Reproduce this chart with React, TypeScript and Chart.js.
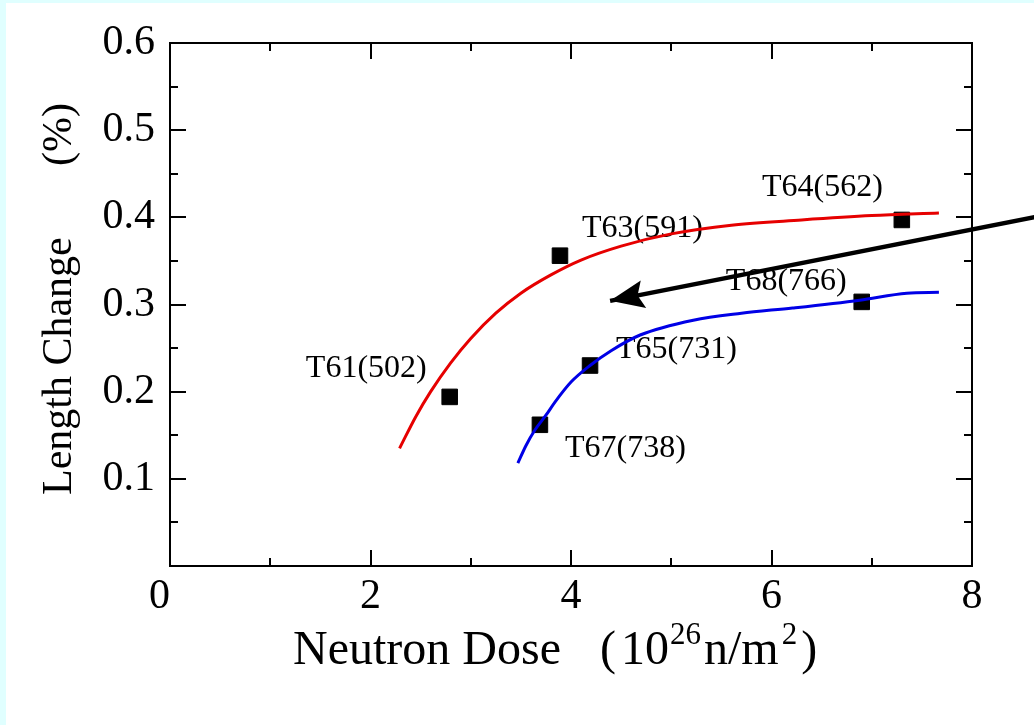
import React, { useEffect, useRef } from "react";
import { Chart, registerables } from "chart.js";

Chart.register(...registerables);

// ---- data ----
const sampleLabels = ["T61(502)", "T63(591)", "T64(562)", "T67(738)", "T65(731)", "T68(766)"];
const sampleDose = [2.79, 3.89, 7.3, 3.69, 4.19, 6.9];
const sampleChange = [0.194, 0.356, 0.397, 0.162, 0.23, 0.303];

const redDose = [2.29, 2.45, 2.6, 2.8, 3.0, 3.25, 3.5, 3.8, 4.1, 4.5, 5.0, 5.6, 6.3, 7.0, 7.67];
const redChange = [0.135, 0.171, 0.2, 0.233, 0.261, 0.29, 0.313, 0.334, 0.351, 0.367, 0.381, 0.391, 0.397, 0.402, 0.405];

const blueDose = [3.47, 3.55, 3.64, 3.75, 3.84, 4.0, 4.19, 4.4, 4.69, 5.22, 5.7, 6.21, 6.88, 7.35, 7.67];
const blueChange = [0.118, 0.138, 0.156, 0.173, 0.188, 0.211, 0.23, 0.247, 0.265, 0.282, 0.29, 0.296, 0.305, 0.313, 0.314];

const arrowDose = [8.7, 4.39];
const arrowChange = [0.4019, 0.3042];

const xTickValues = [0, 2, 4, 6, 8];
const yTickValues = [0.1, 0.2, 0.3, 0.4, 0.5, 0.6];

const yTitleMain = "Length Change";
const yTitleUnit = "(%)";
const xTitleMain = "Neutron Dose";
// unit: (10^26 n/m^2) as runs of [text, isSuperscript]
const xTitleUnitParts: [string, boolean][] = [
  ["(", false],
  ["10", false],
  ["26", true],
  ["n/m", false],
  ["2", true],
  [")", false],
];

// ---- label placement (styling, pixels relative to each point) ----
const labelPlacement = [
  { dx: -23, dy: -28, align: "right" },
  { dx: 22, dy: -27, align: "left" },
  { dx: -19, dy: -32, align: "right" },
  { dx: 25, dy: 24, align: "left" },
  { dx: 26, dy: -16, align: "left" },
  { dx: -15, dy: -20, align: "right" },
];
const unitGaps = [5, 1, 3, 3, 4, 0];

const SERIF = "'Liberation Serif', 'Times New Roman', serif";

const decorPlugin = {
  id: "decor",
  beforeDatasetsDraw(chart: any) {
    const ctx = chart.ctx;
    const xs = chart.scales.x;
    const ys = chart.scales.y;
    ctx.save();
    ctx.fillStyle = "#000";
    ctx.font = `32px ${SERIF}`;
    ctx.textBaseline = "middle";
    sampleLabels.forEach((txt, i) => {
      const p = labelPlacement[i];
      const px = xs.getPixelForValue(sampleDose[i]);
      const py = ys.getPixelForValue(sampleChange[i]);
      ctx.textAlign = p.align;
      ctx.fillText(txt, px + p.dx, py + p.dy);
    });
    ctx.restore();
  },
  afterDatasetsDraw(chart: any) {
    const ctx = chart.ctx;
    const xs = chart.scales.x;
    const ys = chart.scales.y;
    const tx = xs.getPixelForValue(arrowDose[1]);
    const ty = ys.getPixelForValue(arrowChange[1]);
    const sx = xs.getPixelForValue(arrowDose[0]);
    const sy = ys.getPixelForValue(arrowChange[0]);
    const len = Math.hypot(sx - tx, sy - ty);
    const ux = (sx - tx) / len;
    const uy = (sy - ty) / len;
    const nx = -uy;
    const ny = ux;
    const L = 34;
    const W = 14;
    ctx.save();
    ctx.fillStyle = "#000";
    ctx.beginPath();
    ctx.moveTo(tx, ty);
    ctx.lineTo(tx + ux * L + nx * W, ty + uy * L + ny * W);
    ctx.lineTo(tx + ux * (L - 6), ty + uy * (L - 6));
    ctx.lineTo(tx + ux * L - nx * W, ty + uy * L - ny * W);
    ctx.closePath();
    ctx.fill();
    ctx.restore();
  },
  afterDraw(chart: any) {
    const ctx = chart.ctx;
    const xs = chart.scales.x;
    const ys = chart.scales.y;
    const a = chart.chartArea;
    // inward tick marks on all four sides
    ctx.save();
    ctx.strokeStyle = "#000";
    ctx.lineWidth = 2;
    ctx.beginPath();
    xs.ticks.forEach((t: any) => {
      const v = Number(t.value);
      const major = Math.round(v) % 2 === 0;
      const l = major ? 16 : 8;
      const px = Math.round(xs.getPixelForValue(v));
      ctx.moveTo(px, a.bottom);
      ctx.lineTo(px, a.bottom - l);
      ctx.moveTo(px, a.top);
      ctx.lineTo(px, a.top + l);
    });
    ys.ticks.forEach((t: any) => {
      const v = Number(t.value);
      const major = Math.round(v * 20) % 2 === 0;
      const l = major ? 16 : 8;
      const py = Math.round(ys.getPixelForValue(v));
      ctx.moveTo(a.left, py);
      ctx.lineTo(a.left + l, py);
      ctx.moveTo(a.right, py);
      ctx.lineTo(a.right - l, py);
    });
    ctx.stroke();
    ctx.restore();

    // axis titles
    ctx.save();
    ctx.fillStyle = "#000";
    // x title
    const baseY = a.bottom + 98;
    let cx = a.left + 123;
    ctx.textBaseline = "alphabetic";
    ctx.textAlign = "left";
    ctx.font = `48px ${SERIF}`;
    ctx.fillText(xTitleMain, cx, baseY);
    cx = a.left + 430;
    xTitleUnitParts.forEach(([txt, sup], i) => {
      ctx.font = sup ? `31px ${SERIF}` : `48px ${SERIF}`;
      ctx.fillText(txt, cx, sup ? baseY - 20 : baseY);
      cx += ctx.measureText(txt).width + unitGaps[i];
    });
    // y title (rotated)
    ctx.translate(a.left - 110, a.bottom - 71);
    ctx.rotate(-Math.PI / 2);
    ctx.font = `42px ${SERIF}`;
    ctx.textBaseline = "middle";
    ctx.textAlign = "left";
    ctx.fillText(yTitleMain, 0, 0);
    ctx.textAlign = "right";
    ctx.fillText(yTitleUnit, a.bottom - 71 - 103, 0);
    ctx.restore();
  },
};

export default function App() {
  const ref = useRef<HTMLCanvasElement>(null);

  useEffect(() => {
    const toPts = (xs: number[], ys: number[]) => xs.map((x, i) => ({ x, y: ys[i] }));
    const chart = new Chart(ref.current as HTMLCanvasElement, {
      type: "scatter",
      data: {
        datasets: [
          {
            label: "red fit",
            data: toPts(redDose, redChange),
            showLine: true,
            borderColor: "#e60000",
            borderWidth: 3,
            pointRadius: 0,
            cubicInterpolationMode: "monotone",
            order: 0,
          },
          {
            label: "blue fit",
            data: toPts(blueDose, blueChange),
            showLine: true,
            borderColor: "#0000e6",
            borderWidth: 3,
            pointRadius: 0,
            cubicInterpolationMode: "monotone",
            order: 0,
          },
          {
            label: "arrow",
            data: toPts(arrowDose, arrowChange),
            showLine: true,
            borderColor: "#000",
            borderWidth: 4.5,
            pointRadius: 0,
            clip: false,
            order: 0,
          },
          {
            label: "samples",
            data: toPts(sampleDose, sampleChange),
            showLine: false,
            pointStyle: "rect",
            pointRadius: 11,
            backgroundColor: "#000",
            borderColor: "#000",
            borderWidth: 1,
            order: 1,
          },
        ],
      } as any,
      options: {
        responsive: false,
        devicePixelRatio: 1,
        animation: false,
        events: [],
        layout: { padding: { left: 0, right: 62, top: 43, bottom: 0 } },
        plugins: {
          legend: { display: false },
          tooltip: { enabled: false },
        },
        scales: {
          x: {
            type: "linear",
            position: "bottom",
            min: 0,
            max: 8,
            afterFit: (s: any) => {
              s.height = 159;
            },
            grid: { display: false },
            border: { display: true, color: "#000", width: 2 },
            ticks: {
              stepSize: 1,
              autoSkip: false,
              maxRotation: 0,
              padding: 0,
              color: "#000",
              font: { family: SERIF, size: 42, lineHeight: 1.1 },
              callback: (v: any) => {
                const n = Math.round(Number(v));
                if (!xTickValues.includes(n)) return "";
                return n === 0 ? "0  " : String(n);
              },
            },
          },
          y: {
            type: "linear",
            position: "left",
            min: 0,
            max: 0.6,
            afterFit: (s: any) => {
              s.width = 170;
            },
            grid: { display: false },
            border: { display: true, color: "#000", width: 2 },
            ticks: {
              stepSize: 0.05,
              autoSkip: false,
              padding: 7,
              color: "#000",
              font: { family: SERIF, size: 42 },
              callback: (v: any) => {
                const k = Math.round(Number(v) * 100);
                const match = yTickValues.find((t) => Math.round(t * 100) === k);
                return match !== undefined ? match.toFixed(1) : "";
              },
            },
          },
          x2: {
            type: "linear",
            position: "top",
            min: 0,
            max: 8,
            afterFit: (s: any) => {
              s.height = 0;
            },
            grid: { display: false },
            ticks: { display: false },
            border: { display: true, color: "#000", width: 2 },
          },
          y2: {
            type: "linear",
            position: "right",
            min: 0,
            max: 0.6,
            afterFit: (s: any) => {
              s.width = 0;
            },
            grid: { display: false },
            ticks: { display: false },
            border: { display: true, color: "#000", width: 2 },
          },
        },
      } as any,
      plugins: [decorPlugin],
    });
    return () => chart.destroy();
  }, []);

  return (
    <div
      style={{
        position: "fixed",
        left: 0,
        top: 0,
        width: 1034,
        height: 725,
        background: "#ffffff",
        overflow: "hidden",
      }}
    >
      <div style={{ position: "absolute", left: 0, top: 0, width: 6, height: 725, background: "#e0ffff" }} />
      <div style={{ position: "absolute", left: 0, top: 0, width: 1034, height: 3, background: "#e0ffff" }} />
      <canvas
        ref={ref}
        width={1034}
        height={725}
        style={{ position: "absolute", left: 0, top: 0, width: 1034, height: 725 }}
      />
    </div>
  );
}
